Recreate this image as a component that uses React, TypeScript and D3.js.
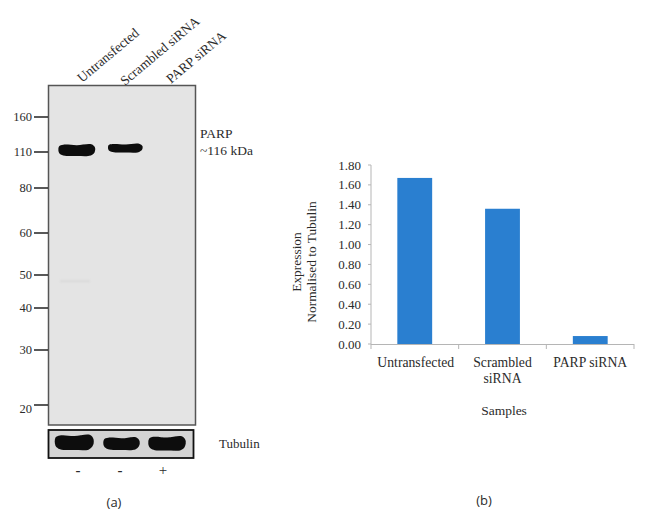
import React from "react";
import * as d3 from "d3";

const categories = ["Untransfected", "Scrambled siRNA", "PARP siRNA"];
const categoryLines = [["Untransfected"], ["Scrambled", "siRNA"], ["PARP siRNA"]];
const expression = [1.67, 1.36, 0.08];
const yTicks = [0, 0.2, 0.4, 0.6, 0.8, 1.0, 1.2, 1.4, 1.6, 1.8];
const markers = [160, 110, 80, 60, 50, 40, 30, 20];
const markerPixels = [117, 152, 188, 233, 275, 308, 350, 405];
const treatment = ["-", "-", "+"];
const parpLanes = [
  { lane: 0, x0: 59, x1: 95, y0: 144, y1: 156 },
  { lane: 1, x0: 108.5, x1: 142.5, y0: 143.5, y1: 152.5 },
];
const tubulinLanes = [
  { x0: 55.5, x1: 93.5, y0: 434.5, y1: 450 },
  { x0: 104, x1: 139.5, y0: 437, y1: 450 },
  { x0: 149, x1: 185.5, y0: 436, y1: 450.5 },
];
const serif = "'Liberation Serif', 'Times New Roman', serif";
const textColor = "#2b2b2b";

function bandPath(b: { x0: number; x1: number; y0: number; y1: number }) {
  const w = b.x1 - b.x0;
  const h = b.y1 - b.y0;
  const line = d3.line<[number, number]>().curve(d3.curveCatmullRomClosed.alpha(0.5));
  return line([
    [b.x0, b.y0 + h * 0.2],
    [b.x0 + w * 0.12, b.y0 + h * 0.06],
    [b.x0 + w * 0.5, b.y0 + h * 0.1],
    [b.x1 - w * 0.1, b.y0 + h * 0.02],
    [b.x1, b.y0 + h * 0.3],
    [b.x1 - 0.5, b.y1 - h * 0.3],
    [b.x1 - w * 0.12, b.y1 - h * 0.04],
    [b.x0 + w * 0.5, b.y1],
    [b.x0 + w * 0.12, b.y1 - h * 0.05],
    [b.x0, b.y1 - h * 0.28],
  ]) as string;
}

export default function App() {
  const y = d3.scaleLinear().domain([0, 1.8]).range([344, 165]);
  const x = d3.scaleBand<string>().domain(categories).range([371, 634]).paddingInner(0.603).paddingOuter(0.3);
  const xEdges = d3.scaleLinear().domain([0, 3]).range([371, 634]);
  const mw = d3.scaleOrdinal<number, number>().domain(markers).range(markerPixels);
  const labelAnchors = [82, 125, 171];

  return (
    <svg
      width={650}
      height={517}
      viewBox="0 0 650 517"
      style={{ position: "absolute", left: 0, top: 0, background: "#fff" }}
      fontFamily={serif}
      fill={textColor}
    >
      <defs>
        <filter id="soft" x="-20%" y="-40%" width="140%" height="180%">
          <feGaussianBlur stdDeviation="0.5" />
        </filter>
        <filter id="faint" x="-20%" y="-200%" width="140%" height="500%">
          <feGaussianBlur stdDeviation="1" />
        </filter>
      </defs>

      {/* (a) western blot */}
      {categories.map((c, i) => (
        <text
          key={c}
          transform={`translate(${labelAnchors[i]},${[83, 86, 84][i]}) rotate(-40)`}
          fontSize={13.5}
        >
          {c}
        </text>
      ))}
      <rect x={48.5} y={85.5} width={147} height={339.5} fill="#e4e4e4" stroke="#555" strokeWidth={1.5} />
      {markers.map((m) => (
        <g key={m}>
          <line x1={34} x2={48} y1={mw(m)} y2={mw(m)} stroke="#222" strokeWidth={1.5} />
          <text x={32} y={mw(m) + (m === 20 ? 8 : 4)} textAnchor="end" fontSize={12.5}>
            {m}
          </text>
        </g>
      ))}
      {parpLanes.map((b) => (
        <path key={b.lane} d={bandPath(b)} fill="#0c0c0c" filter="url(#soft)" />
      ))}
      <rect x={60} y={280.5} width={30} height={1.4} fill="#d4d4d4" filter="url(#faint)" />
      <text x={200} y={138} fontSize={13.5}>PARP</text>
      <text x={200} y={155} fontSize={13.5}>~116 kDa</text>

      <rect x={48.5} y={430} width={145} height={28} fill="#d4d4d4" stroke="#111" strokeWidth={1.8} />
      {tubulinLanes.map((b, i) => (
        <path key={i} d={bandPath(b)} fill="#0a0a0a" filter="url(#soft)" />
      ))}
      <text x={219} y={448} fontSize={13}>Tubulin</text>
      {treatment.map((t, i) => (
        <text key={i} x={[78, 120, 163][i]} y={475} textAnchor="middle" fontSize={15} fontWeight={t === "-" ? 700 : 400}>
          {t}
        </text>
      ))}
      <text x={114} y={507} textAnchor="middle" fontSize={13} fontFamily="'Open Sans', 'DejaVu Sans', sans-serif">
        (a)
      </text>

      {/* (b) bar chart */}
      {categories.map((c, i) => (
        <rect
          key={c}
          x={x(c)}
          y={y(expression[i])}
          width={x.bandwidth()}
          height={y(0) - y(expression[i])}
          fill="#2a7fd0"
        />
      ))}
      <line x1={371} x2={371} y1={y(1.8)} y2={y(0)} stroke="#b5b5b5" />
      <line x1={371} x2={634} y1={y(0) + 0.5} y2={y(0) + 0.5} stroke="#b5b5b5" />
      {yTicks.map((t) => (
        <g key={t}>
          <line x1={368} x2={371} y1={y(t)} y2={y(t)} stroke="#b5b5b5" />
          <text x={361} y={y(t) + 4.5} textAnchor="end" fontSize={13}>
            {t.toFixed(2)}
          </text>
        </g>
      ))}
      {d3.range(4).map((i) => (
        <line key={i} x1={xEdges(i)} x2={xEdges(i)} y1={344} y2={349} stroke="#b5b5b5" />
      ))}
      {categoryLines.map((lines, i) =>
        lines.map((l, j) => (
          <text
            key={l}
            x={x(categories[i])! + x.bandwidth() / 2 + (i === 0 ? 1 : 0)}
            y={367 + j * 16}
            textAnchor="middle"
            fontSize={13.7}
          >
            {l}
          </text>
        ))
      )}
      <text x={504} y={415} textAnchor="middle" fontSize={13.5}>Samples</text>
      <text transform="translate(301,262) rotate(-90)" textAnchor="middle" fontSize={13.4}>
        Expression
      </text>
      <text transform="translate(316,262) rotate(-90)" textAnchor="middle" fontSize={13.4}>
        Normalised to Tubulin
      </text>
      <text x={484} y={505} textAnchor="middle" fontSize={13} fontFamily="'Open Sans', 'DejaVu Sans', sans-serif">
        (b)
      </text>
    </svg>
  );
}
